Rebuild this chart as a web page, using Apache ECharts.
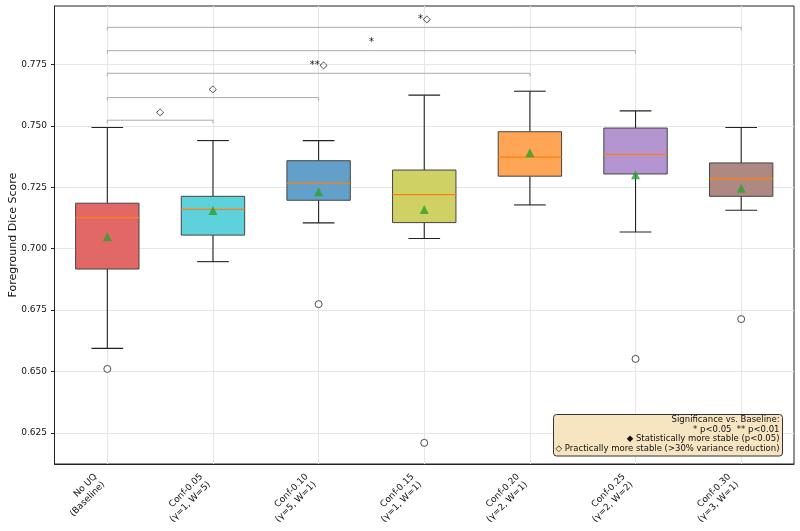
<!DOCTYPE html>
<html>
<head>
<meta charset="utf-8">
<script src="https://cdn.jsdelivr.net/npm/echarts@6/dist/echarts.min.js"></script>
<style>html,body{margin:0;padding:0;background:#fff}#main{width:800px;height:531px}</style>
</head>
<body>
<div id="main"></div>
<script>
// box plot stats
var categories = ['No UQ\n(Baseline)', 'Conf-0.05\n(γ=1, W=5)', 'Conf-0.10\n(γ=5, W=1)', 'Conf-0.15\n(γ=1, W=1)',
                  'Conf-0.20\n(γ=2, W=1)', 'Conf-0.25\n(γ=2, W=2)', 'Conf-0.30\n(γ=3, W=1)'];
var whiskerLow  = [0.6594, 0.6947, 0.7105, 0.7041, 0.7178, 0.7068, 0.7156];
var q1          = [0.6917, 0.7055, 0.7197, 0.7106, 0.7295, 0.7304, 0.7213];
var medians     = [0.7126, 0.7160, 0.7266, 0.7220, 0.7373, 0.7384, 0.7285];
var q3          = [0.7185, 0.7213, 0.7358, 0.7320, 0.7476, 0.7491, 0.7349];
var whiskerHigh = [0.7493, 0.7440, 0.7440, 0.7625, 0.7641, 0.7561, 0.7493];
var means       = [0.7048, 0.7155, 0.7232, 0.7159, 0.7390, 0.7301, 0.7246];
var outliers    = [[0, 0.6510], [2, 0.6774], [3, 0.6209], [5, 0.6551], [6, 0.6713]];
var yTicks = [0.625, 0.650, 0.675, 0.700, 0.725, 0.750, 0.775];

// significance brackets vs baseline
var sigFrom  = [0, 0, 0, 0, 0];
var sigTo    = [1, 2, 4, 5, 6];
var sigLevel = [0.7523, 0.7615, 0.7714, 0.7806, 0.7901];
var sigText  = ['◇', '◇', '**◇', '*', '*◇'];

var legendLines = ['Significance vs. Baseline:', '* p<0.05  ** p<0.01',
                   '◆ Statistically more stable (p<0.05)', '◇ Practically more stable (>30% variance reduction)'];

var boxColors = ['#e26868', '#5dd2dd', '#62a0ca', '#d0d164', '#ffa556', '#b495d1', '#ae8981'];
var font = 'DejaVu Sans';

var boxData = categories.map(function (c, i) {
  return [i, whiskerLow[i], q1[i], medians[i], q3[i], whiskerHigh[i]];
});
var sigData = sigFrom.map(function (f, i) {
  return [f, sigTo[i], sigLevel[i]];
});

var chart = echarts.init(document.getElementById('main'));

var graphics = [
  {type: 'rect', shape: {x: 553.5, y: 414.5, width: 229, height: 41.5, r: 3},
    style: {fill: '#f7e5c2', stroke: '#333', lineWidth: 1}, z: 10}
];
legendLines.forEach(function (t, i) {
  graphics.push({type: 'text', x: 779.5, y: 420 + i * 9.6, z: 11,
    style: {text: t, align: 'right', verticalAlign: 'middle', fontSize: 8.5, fontFamily: font, fill: '#111'}});
});

chart.setOption({
  animation: false,
  grid: {left: 54.5, right: 6, top: 6, bottom: 67, outerBoundsMode: 'none',
         show: true, borderColor: '#222', borderWidth: 1, backgroundColor: 'transparent'},
  xAxis: {
    type: 'category',
    data: categories,
    axisLine: {lineStyle: {color: '#222'}},
    axisTick: {alignWithLabel: true, length: 3.5, lineStyle: {color: '#222'}},
    axisLabel: {rotate: 45, margin: 23, fontSize: 9, fontFamily: font, color: '#111',
                lineHeight: 11, interval: 0, align: 'right', verticalAlign: 'bottom'},
    splitLine: {show: false}
  },
  yAxis: {
    type: 'value',
    min: 0.6123,
    max: 0.7988,
    minInterval: 0.025,
    maxInterval: 0.025,
    name: 'Foreground Dice Score',
    nameLocation: 'middle',
    nameGap: 36,
    nameMoveOverlap: false,
    nameTextStyle: {fontSize: 11, fontFamily: font, color: '#111'},
    axisLine: {show: true, lineStyle: {color: '#222'}},
    axisTick: {show: true, length: 3.5, lineStyle: {color: '#222'}, customValues: yTicks},
    axisLabel: {fontSize: 9, fontFamily: font, color: '#111', margin: 7.5, customValues: yTicks,
      formatter: function (v) { return v.toFixed(3); }},
    splitLine: {lineStyle: {color: '#e6e6e6', width: 1}}
  },
  series: [
    {
      type: 'scatter',
      z: 1,
      symbol: 'circle',
      symbolSize: 7,
      itemStyle: {color: '#fff', borderColor: '#222', borderWidth: 1},
      data: outliers,
      markLine: {
        silent: true,
        z: 0,
        symbol: 'none',
        label: {show: false},
        lineStyle: {color: '#e6e6e6', width: 1, type: 'solid'},
        data: categories.map(function (c, i) { return {xAxis: i}; })
      }
    },
    {
      type: 'custom',
      z: 2,
      data: boxData,
      renderItem: function (params, api) {
        var i = api.value(0);
        var band = api.size([1, 0])[0];
        var w = band * 0.6, cap = band * 0.3;
        var lo = api.coord([i, api.value(1)]);
        var b = api.coord([i, api.value(2)]);
        var m = api.coord([i, api.value(3)]);
        var t = api.coord([i, api.value(4)]);
        var hi = api.coord([i, api.value(5)]);
        var x = lo[0];
        var ws = {stroke: '#222', lineWidth: 1.1};
        return {
          type: 'group',
          children: [
            {type: 'line', shape: {x1: x, y1: lo[1], x2: x, y2: b[1]}, style: ws},
            {type: 'line', shape: {x1: x, y1: t[1], x2: x, y2: hi[1]}, style: ws},
            {type: 'line', shape: {x1: x - cap / 2, y1: lo[1], x2: x + cap / 2, y2: lo[1]}, style: ws},
            {type: 'line', shape: {x1: x - cap / 2, y1: hi[1], x2: x + cap / 2, y2: hi[1]}, style: ws},
            {type: 'rect', shape: {x: x - w / 2, y: t[1], width: w, height: b[1] - t[1]},
              style: {fill: boxColors[params.dataIndex], stroke: '#444', lineWidth: 1}},
            {type: 'line', shape: {x1: x - w / 2, y1: m[1], x2: x + w / 2, y2: m[1]},
              style: {stroke: '#ff7f0e', lineWidth: 1.2}}
          ]
        };
      }
    },
    {
      type: 'scatter',
      z: 3,
      symbol: 'triangle',
      symbolSize: 9,
      itemStyle: {color: '#2ca02c'},
      data: means.map(function (v, i) { return [i, v]; })
    },
    {
      type: 'custom',
      z: 4,
      data: sigData,
      renderItem: function (params, api) {
        var a = api.coord([api.value(0), api.value(2)]);
        var b = api.coord([api.value(1), api.value(2)]);
        return {
          type: 'group',
          children: [
            {type: 'polyline', shape: {points: [[a[0], a[1] + 3], [a[0], a[1]], [b[0], b[1]], [b[0], b[1] + 3]]},
              style: {stroke: '#aaa', lineWidth: 1, fill: null}},
            {type: 'text', x: (a[0] + b[0]) / 2, y: a[1] - 3,
              style: {text: sigText[params.dataIndex], fontSize: 10, fontFamily: font, fill: '#111',
                      align: 'center', verticalAlign: 'bottom'}}
          ]
        };
      }
    }
  ],
  graphic: graphics
});
</script>
</body>
</html>
